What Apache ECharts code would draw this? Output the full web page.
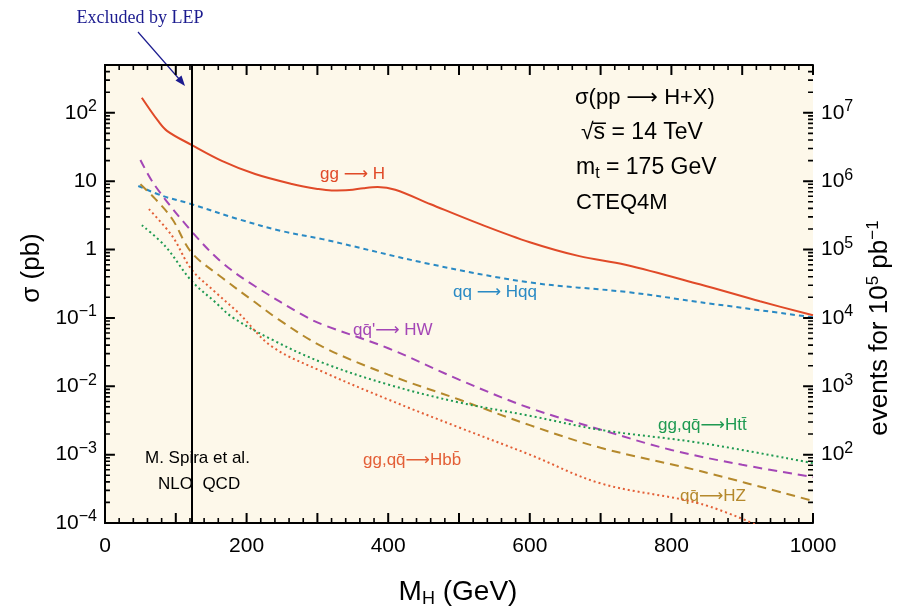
<!DOCTYPE html>
<html><head><meta charset="utf-8">
<script src="https://cdn.jsdelivr.net/npm/echarts@6/dist/echarts.min.js"></script>
<style>html,body{margin:0;padding:0;background:#fff}#c{width:903px;height:611px}</style>
</head><body><div id="c"></div>
<script>
// ---- data (Higgs mass in GeV, cross section in pb) ----
const massGGH = [52, 75, 88, 122, 165, 212, 264, 300, 320, 345, 365, 385, 410, 460, 530, 600, 670, 735, 840, 925, 1000];
const sigGGH  = [166, 76, 54, 34, 19.8, 12.7, 9.1, 7.7, 7.3, 7.4, 7.9, 8.2, 7.5, 4.6, 2.35, 1.28, 0.80, 0.60, 0.31, 0.175, 0.109];

const massHQQ = [47, 82, 122, 188, 250, 307, 460, 600, 740, 840, 1000];
const sigHQQ  = [8.5, 6.05, 4.62, 2.79, 1.86, 1.42, 0.61, 0.33, 0.237, 0.17, 0.102];

const massHW = [50, 71, 122, 165, 212, 283, 307, 400, 500, 600, 700, 800, 900, 1000];
const sigHW  = [20.4, 8.5, 1.86, 0.65, 0.29, 0.105, 0.08, 0.036, 0.0125, 0.0048, 0.00232, 0.00117, 0.00071, 0.00047];

const massHZ = [50, 71, 95, 122, 165, 212, 245, 307, 400, 500, 600, 700, 842, 1000];
const sigHZ  = [9.0, 5.5, 2.79, 0.91, 0.39, 0.169, 0.095, 0.038, 0.0148, 0.0064, 0.0027, 0.00126, 0.00057, 0.00021];

const massHTT = [52, 85, 122, 156, 180, 236, 307, 400, 500, 600, 700, 842, 1000];
const sigHTT  = [2.27, 1.12, 0.35, 0.169, 0.102, 0.048, 0.0222, 0.0106, 0.0058, 0.0037, 0.0023, 0.00148, 0.00075];

const massHBB = [62, 95, 122, 156, 188, 236, 307, 400, 500, 600, 700, 842, 930];
const sigHBB  = [3.9, 1.57, 0.515, 0.237, 0.12, 0.038, 0.0164, 0.0064, 0.0025, 0.001, 0.00038, 0.00019, 0.000085];

const lepMass = 122;
const xMin = 0, xMax = 1000;
const xLabelValues = [0, 200, 400, 600, 800, 1000];
const xMajorTicks = [0, 100, 200, 300, 400, 500, 600, 700, 800, 900, 1000];
const xMinorStep = 20;
const yMin = 1e-4, yMax = 500;
const yMajorTicks = [1e-4, 1e-3, 1e-2, 1e-1, 1, 10, 100];
const minorMult = [2, 3, 4, 5, 6, 7, 8, 9];

// ---- styling ----
const F = 'Liberation Sans, DejaVu Sans, sans-serif';
const C = {
  ggh: '#E04A28', hqq: '#2A8AC4', hw: '#A446B6', hz: '#B5892C', htt: '#1F9A52', hbb: '#E35F37', lep: '#1B1B8F'
};
const PLOT = { left: 105, right: 90, top: 65, bottom: 88 };
// tick lengths expressed in axis units (≈10 px major, ≈5 px minor)
const TICK = { hMajor: 14, hMinor: 7, vMajor: 1.40, vMinor: 1.18 };

const yMinorTicks = [];
yMajorTicks.forEach(d => minorMult.forEach(m => { const v = m * d; if (v <= yMax) yMinorTicks.push(v); }));
const xMinorTicks = [];
for (let m = xMin + xMinorStep; m < xMax; m += xMinorStep) if (xMajorTicks.indexOf(m) < 0) xMinorTicks.push(m);

const pairs = (xs, ys) => xs.map((x, i) => [x, ys[i]]);

function expLabel(shift) {
  return function (v) {
    const e = Math.round(Math.log10(v)) + shift;
    if (shift === 0 && e === 0) return '{b|1}';
    if (shift === 0 && e === 1) return '{b|10}';
    return '{b|10}{s|' + String(e).replace('-', '\u2212') + '}';
  };
}
const labelRich = {
  b: { fontSize: 21, fontFamily: F, color: '#000' },
  s: { fontSize: 16, fontFamily: F, color: '#000', padding: [0, 0, 12, 0] }
};

function xAx(pos, labels) {
  return {
    type: 'value', min: xMin, max: xMax, interval: 100, position: pos,
    axisLine: { show: true, lineStyle: { color: '#000', width: 2 } },
    axisTick: { show: false }, minorTick: { show: false },
    splitLine: { show: false },
    axisLabel: labels ? {
      show: true, margin: 13, color: '#000', fontSize: 21, fontFamily: F,
      formatter: v => (xLabelValues.indexOf(v) >= 0 ? String(v) : '')
    } : { show: false }
  };
}
function yAx(pos, shift) {
  return {
    type: 'log', min: yMin, max: yMax, position: pos,
    axisLine: { show: true, lineStyle: { color: '#000', width: 2 } },
    axisTick: { show: false },
    splitLine: { show: false },
    axisLabel: {
      show: true, margin: 8, formatter: expLabel(shift), rich: labelRich,
      showMinLabel: shift === 0, showMaxLabel: false
    }
  };
}

function lineSeries(name, xs, ys, color, type, extra) {
  return Object.assign({
    name, type: 'line', data: pairs(xs, ys), showSymbol: false, symbol: 'none', smooth: 0.35,
    clip: true, xAxisIndex: 0, yAxisIndex: 0, z: 3,
    lineStyle: { color, width: 2, type }
  }, extra || {});
}

// frame ticks, placed through the chart's own x (linear) and y (log) scales
function tickSeries(segments, width) {
  const data = [];
  segments.forEach(s => { data.push(s[0], s[1], [s[1][0], '-']); });
  return {
    type: 'line', data, showSymbol: false, symbol: 'none', silent: true, clip: false,
    connectNulls: false, z: 4, xAxisIndex: 0, yAxisIndex: 0,
    lineStyle: { color: '#000', width, type: 'solid' }
  };
}
const yTickSegs = (vals, len) => {
  const s = [];
  vals.forEach(v => { s.push([[xMin, v], [xMin + len, v]]); s.push([[xMax, v], [xMax - len, v]]); });
  return s;
};
const xTickSegs = (vals, f) => {
  const s = [];
  vals.forEach(m => { s.push([[m, yMin], [m, yMin * f]]); s.push([[m, yMax], [m, yMax / f]]); });
  return s;
};

const chart = echarts.init(document.getElementById('c'));

chart.setOption({
  animation: false,
  backgroundColor: '#ffffff',
  grid: Object.assign({ show: false, containLabel: false }, PLOT),
  xAxis: [xAx('bottom', true), xAx('top', false)],
  yAxis: [yAx('left', 0), yAx('right', 5)],
  series: [
    lineSeries('gg→H', massGGH, sigGGH, C.ggh, 'solid', {
      markLine: {
        silent: true, symbol: 'none', label: { show: false },
        lineStyle: { color: '#000', width: 2, type: 'solid' },
        data: [{ xAxis: lepMass }]
      }
    }),
    lineSeries('qq→Hqq', massHQQ, sigHQQ, C.hqq, [5, 4]),
    lineSeries('qq̄\'→HW', massHW, sigHW, C.hw, [9, 6]),
    lineSeries('qq̄→HZ', massHZ, sigHZ, C.hz, [9, 6]),
    lineSeries('gg,qq̄→Htt̄', massHTT, sigHTT, C.htt, [2, 3]),
    lineSeries('gg,qq̄→Hbb̄', massHBB, sigHBB, C.hbb, [2, 3]),
    tickSeries(yTickSegs(yMajorTicks, TICK.hMajor), 2),
    tickSeries(yTickSegs(yMinorTicks, TICK.hMinor), 1.6),
    tickSeries(xTickSegs(xMajorTicks, TICK.vMajor), 2),
    tickSeries(xTickSegs(xMinorTicks, TICK.vMinor), 1.6)
  ],
  graphic: [
    { type: 'rect', z: -100, silent: true, shape: { x: PLOT.left, y: PLOT.top, width: 903 - PLOT.left - PLOT.right, height: 611 - PLOT.top - PLOT.bottom }, style: { fill: '#FDF8EA' } },
    { type: 'text', x: 140, y: 18, style: { text: 'Excluded by LEP', font: '18px Liberation Serif, serif', fill: C.lep, textAlign: 'center', textVerticalAlign: 'middle' } },
    { type: 'line', shape: { x1: 138, y1: 32, x2: 180, y2: 80 }, style: { stroke: C.lep, lineWidth: 1.2 } },
    { type: 'polygon', shape: { points: [[185, 86], [175.5, 80.5], [181.5, 75.5]] }, style: { fill: C.lep } },

    { type: 'text', x: 575, y: 98, style: { text: 'σ(pp ⟶ H+X)', font: '22px ' + F, fill: '#000', textVerticalAlign: 'middle' } },
    { type: 'text', x: 581, y: 133, style: { text: '√s\u0305 = 14 TeV', font: '23px ' + F, fill: '#000', textVerticalAlign: 'middle' } },
    { type: 'text', x: 576, y: 168, style: { text: '{a|m}{u|t}{a| = 175 GeV}', textVerticalAlign: 'middle',
        rich: { a: { fontSize: 23, fontFamily: F, fill: '#000' }, u: { fontSize: 16, fontFamily: F, fill: '#000', padding: [12, 0, 0, 0] } } } },
    { type: 'text', x: 576, y: 203, style: { text: 'CTEQ4M', font: '22px ' + F, fill: '#000', textVerticalAlign: 'middle' } },

    { type: 'text', x: 320, y: 174, style: { text: 'gg ⟶ H', font: '17px ' + F, fill: C.ggh, textVerticalAlign: 'middle' } },
    { type: 'text', x: 453, y: 292, style: { text: 'qq ⟶ Hqq', font: '17px ' + F, fill: C.hqq, textVerticalAlign: 'middle' } },
    { type: 'text', x: 353, y: 330, style: { text: 'qq\u0304\'⟶ HW', font: '17px ' + F, fill: C.hw, textVerticalAlign: 'middle' } },
    { type: 'text', x: 658, y: 425, style: { text: 'gg,qq\u0304⟶Htt\u0304', font: '17px ' + F, fill: C.htt, textVerticalAlign: 'middle' } },
    { type: 'text', x: 363, y: 460, style: { text: 'gg,qq\u0304⟶Hbb\u0304', font: '17px ' + F, fill: C.hbb, textVerticalAlign: 'middle' } },
    { type: 'text', x: 680, y: 496, style: { text: 'qq\u0304⟶HZ', font: '17px ' + F, fill: C.hz, textVerticalAlign: 'middle' } },

    { type: 'text', x: 145, y: 458, style: { text: 'M. Spira et al.', font: '17px ' + F, fill: '#000', textVerticalAlign: 'middle' } },
    { type: 'text', x: 158, y: 484, style: { text: 'NLO  QCD', font: '17px ' + F, fill: '#000', textVerticalAlign: 'middle' } },

    { type: 'text', x: 32, y: 268, rotation: Math.PI / 2, style: { text: 'σ (pb)', font: '26px ' + F, fill: '#000', textAlign: 'center', textVerticalAlign: 'middle' } },
    { type: 'text', x: 880, y: 328, rotation: Math.PI / 2, style: { text: '{a|events for 10}{s|5}{a| pb}{s|−1}', textAlign: 'center', textVerticalAlign: 'middle',
        rich: { a: { fontSize: 26, fontFamily: F, fill: '#000' }, s: { fontSize: 17, fontFamily: F, fill: '#000', padding: [0, 0, 14, 0] } } } },
    { type: 'text', x: 458, y: 592, style: { text: '{a|M}{u|H}{a| (GeV)}', textAlign: 'center', textVerticalAlign: 'middle',
        rich: { a: { fontSize: 28, fontFamily: F, fill: '#000' }, u: { fontSize: 18, fontFamily: F, fill: '#000', padding: [14, 0, 0, 0] } } } }
  ]
});
</script>
</body></html>
